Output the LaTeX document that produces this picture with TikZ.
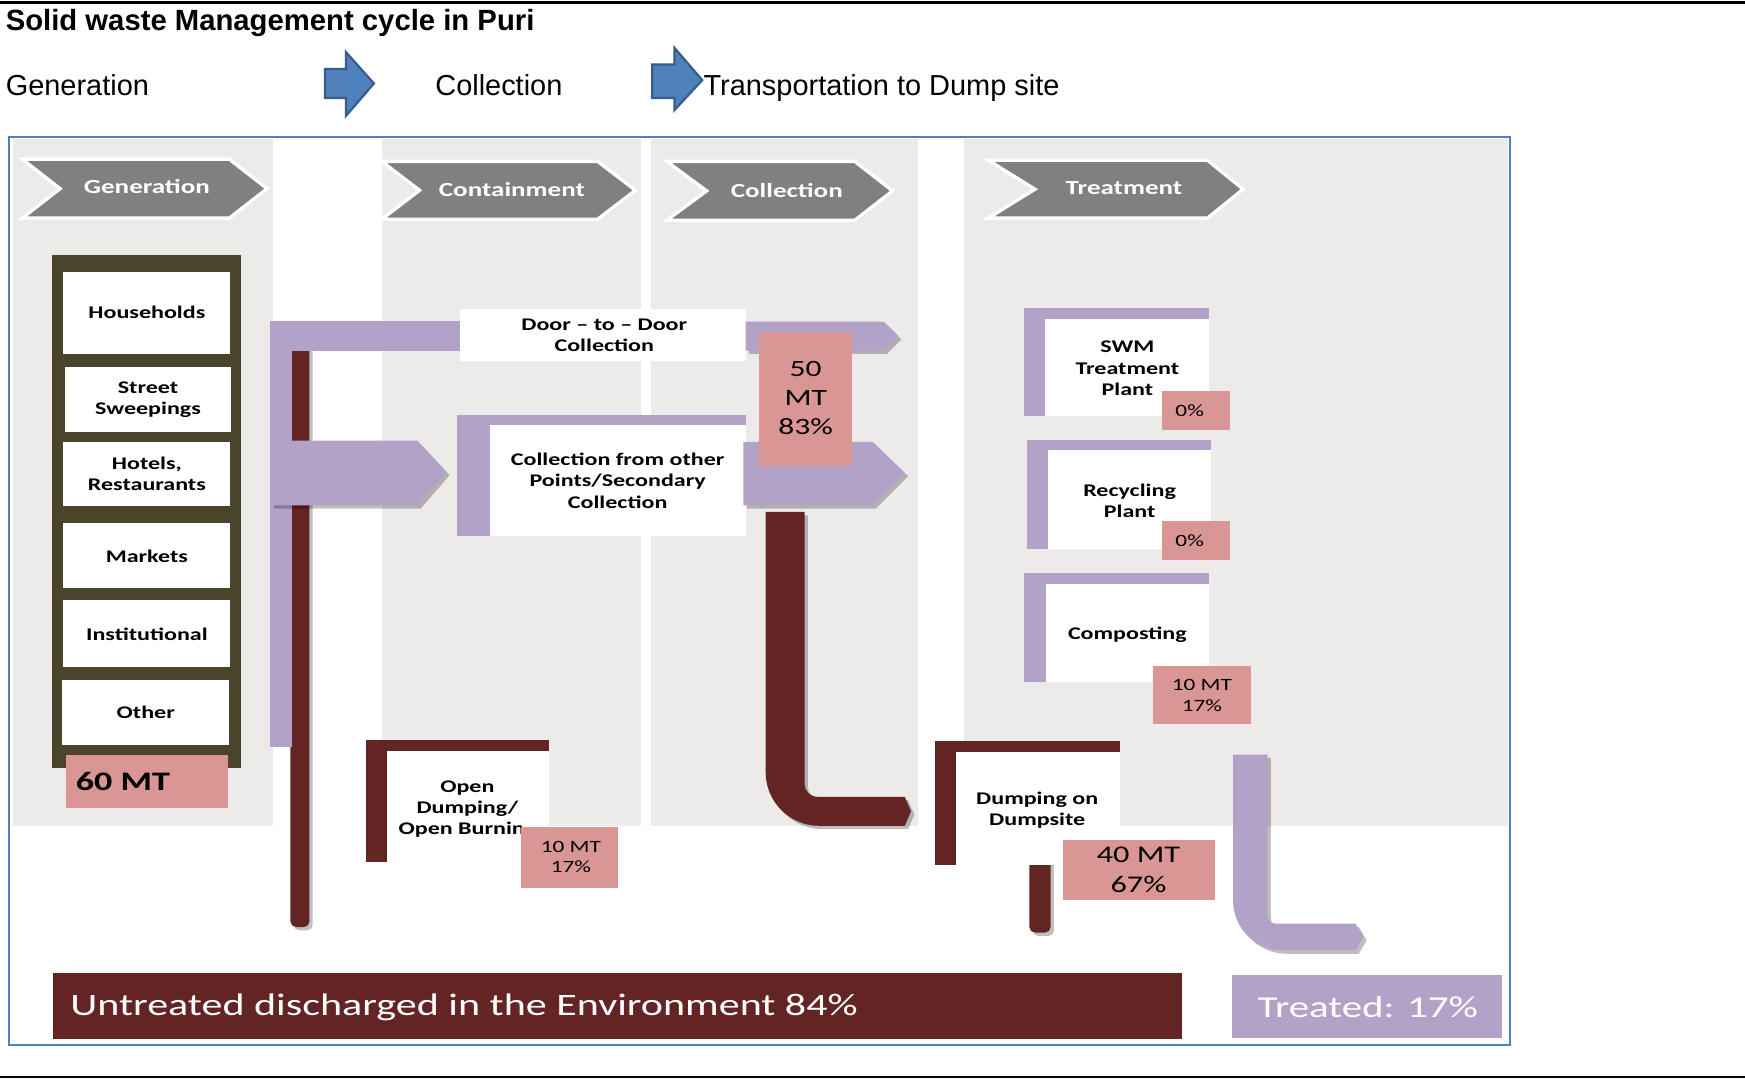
\documentclass[tikz,border=0pt]{standalone}
\usepackage{fontspec}
\newfontfamily\afont{Liberation Sans}
\newfontfamily\cfont[FakeStretch=1.35]{Carlito}
\usetikzlibrary{shadows}
\definecolor{cRed}{HTML}{632523}
\definecolor{cPur}{HTML}{B3A2C7}
\definecolor{cPink}{HTML}{D99694}
\definecolor{cOlive}{HTML}{4A452A}
\definecolor{cGray}{HTML}{808080}
\definecolor{cBg}{HTML}{ECEBE9}
\definecolor{cBlue}{HTML}{4F81BD}
\definecolor{cBlueD}{HTML}{385D8A}
\tikzset{
  lbl/.style={font=\cfont\bfseries\fontsize{16}{19}\selectfont, align=center, inner sep=0pt},
  val/.style={font=\cfont\fontsize{15.5}{18.5}\selectfont, align=center, inner sep=0pt},
  bigval/.style={font=\cfont\fontsize{21.5}{27}\selectfont, align=center, inner sep=0pt},
  chev/.style={fill=cGray, draw=white, line width=3pt, line join=miter},
  chevtxt/.style={font=\cfont\bfseries\fontsize{18}{22}\selectfont, text=white, inner sep=0pt},
  toptxt/.style={font=\afont\fontsize{26}{30}\selectfont, inner sep=0pt, anchor=base west},
  barshadow/.style={drop shadow={shadow xshift=3pt, shadow yshift=-3pt, opacity=0.25, fill=black}},
  bluearrow/.style={fill=cBlue, draw=cBlueD, line width=2pt, line join=miter},
  wbox/.style={fill=white},
}
\begin{document}
\begin{tikzpicture}[x=1pt,y=-1pt]
\useasboundingbox (0,0) rectangle (1568,969);
\fill[white] (0,0) rectangle (1568,969);
% rules
\draw[line width=2.5pt] (0,2) -- (1568,2);
\draw[line width=2pt] (0,967.5) -- (1568,967.5);
% title and process line
\node[toptxt, font=\afont\bfseries\fontsize{26.3}{30}\selectfont] (title) at (5,27) {Solid waste Management cycle in Puri};
\node[toptxt] (pgen) at (5,86) {Generation};
\node[toptxt] (pcol) at (391,86) {Collection};
\node[toptxt] (ptra) at (632,86) {Transportation to Dump site};
\draw[bluearrow] (292,62) -- (311,62) -- (311,47) -- (336,75) -- (311,104) -- (311,88) -- (292,88) -- cycle;
\draw[bluearrow] (586,58) -- (606,58) -- (606,43) -- (631,72) -- (606,99) -- (606,88) -- (586,88) -- cycle;
% column backgrounds
\fill[cBg] (12,125) rectangle (245,742);
\fill[cBg] (343,125) rectangle (576,742);
\fill[cBg] (585,125) rectangle (825,742);
\fill[cBg] (866,125) rectangle (1355,742);
% frame
\draw[cBlue, line width=1.5pt] (8,123) rectangle (1357,939);
% chevrons
\draw[chev] (20,143) -- (206,143) -- (240,169.5) -- (206,196) -- (20,196) -- (54,169.5) -- cycle;
\node[chevtxt] (hgen) at (132,168) {Generation};
\draw[chev] (343,145) -- (537,145) -- (571,171) -- (537,197) -- (343,197) -- (377,171) -- cycle;
\node[chevtxt] (hcon) at (460,170) {Containment};
\draw[chev] (599,145) -- (768,145) -- (802,171.5) -- (768,198) -- (599,198) -- (635,171.5) -- cycle;
\node[chevtxt] (hcol) at (707,171) {Collection};
\draw[chev] (888,144) -- (1085,144) -- (1117,170) -- (1085,196) -- (888,196) -- (930,170) -- cycle;
\node[chevtxt] (htre) at (1010,169) {Treatment};
% generation stack
\fill[cOlive] (47,229) rectangle (217,690);
\fill[wbox] (57,244) rectangle (207,318);
\node[lbl] (hh) at (132,281) {Households};
\fill[wbox] (58,330) rectangle (208,388);
\node[lbl] (ss) at (133,359) {Street\\Sweepings};
\fill[wbox] (57,397) rectangle (207,455);
\node[lbl] (hr) at (132,426) {Hotels,\\Restaurants};
\fill[wbox] (57,470) rectangle (207,528);
\node[lbl] (mk) at (132,500) {Markets};
\fill[wbox] (57,539) rectangle (207,599);
\node[lbl] (in) at (132,570) {Institutional};
\fill[wbox] (56,611) rectangle (206,669);
\node[lbl] (ot) at (131,640) {Other};
\fill[cPink] (59,678) rectangle (205,726);
\node[font=\cfont\bfseries\fontsize{24}{28}\selectfont, anchor=west, inner sep=0pt] (sixty) at (68,702) {60 MT};
% untreated vertical (left)
\fill[cRed, rounded corners=5pt, barshadow] (261,300) rectangle (278,833);
% purple bracket left
\fill[cPur] (243,288) rectangle (262,671);
\fill[cPur] (243,288) rectangle (415,315);
\fill[cPur, barshadow] (243,396) -- (375,396) -- (401,424) -- (375,454) -- (243,454) -- cycle;
% door to door
\fill[wbox] (413,278) rectangle (670,324);
\node[lbl] (d2d) at (543,301) {Door – to – Door\\Collection};
\fill[cPur, barshadow] (670,289) -- (794,289) -- (807,302) -- (794,315) -- (670,315) -- cycle;
% collection from other points
\fill[cPur] (411,373) rectangle (670,482);
\fill[wbox] (440,382) rectangle (670,482);
\node[lbl] (cop) at (555,432) {Collection from other\\Points/Secondary\\Collection};
\fill[cPur, barshadow] (668,397) -- (784,397) -- (813,425) -- (784,454) -- (668,454) -- cycle;
\fill[cPink] (682,298) rectangle (766,419);
\node[font=\cfont\fontsize{21}{26}\selectfont, align=center, inner sep=0pt] (fifty) at (724,358) {50\\MT\\83\%};
% big red L
\fill[cRed, barshadow] (688,460) -- (723,460) -- (723,704) .. controls (723,711) and (728,716) .. (735,716) -- (813,716) -- (818.6,729) -- (813,742) -- (736,742) .. controls (709.5,742) and (688,720.5) .. (688,694) -- cycle;
% open dumping
\fill[cRed] (329,665) rectangle (493,775);
\fill[wbox] (348,675) rectangle (493,775);
\begin{scope}
\clip (348,675) rectangle (469,775);
\node[lbl] (odb) at (420,727) {Open\\Dumping/\\Open Burning};
\end{scope}
\fill[cPink] (468,743) rectangle (555,798);
\node[val] (odv) at (513,770) {10 MT\\17\%};
% treatment boxes
\fill[cPur] (920,277) rectangle (1086,374);
\fill[wbox] (939,287) rectangle (1086,374);
\node[lbl] (swm) at (1013,331) {SWM\\Treatment\\Plant};
\fill[cPink] (1044,351) rectangle (1105,386);
\node[val] (swmv) at (1069,369) {0\%};
\fill[cPur] (923,395) rectangle (1088,493);
\fill[wbox] (942,404) rectangle (1088,493);
\node[lbl] (rec) at (1015,450) {Recycling\\Plant};
\fill[cPink] (1044,468) rectangle (1105,503);
\node[val] (recv) at (1069,486) {0\%};
\fill[cPur] (920,515) rectangle (1086,613);
\fill[wbox] (940,525) rectangle (1086,613);
\node[lbl] (cmp) at (1013,570) {Composting};
\fill[cPink] (1036,598) rectangle (1124,651);
\node[val] (cmpv) at (1080,625) {10 MT\\17\%};
% dumping on dumpsite
\fill[cRed, rounded corners=5pt, barshadow] (925,770) rectangle (944,838);
\fill[cRed] (840,666) rectangle (1006,777);
\fill[wbox] (859,676) rectangle (1006,777);
\node[lbl] (dmp) at (932,728) {Dumping on\\Dumpsite};
\fill[cPink] (955,755) rectangle (1092,809);
\node[bigval] (dmpv) at (1023,782) {40 MT\\67\%};
% purple J
\fill[cPur, barshadow] (1108,678) -- (1139,678) -- (1139,822) .. controls (1139,827) and (1142,830) .. (1147,830) -- (1218,830) -- (1225,842) -- (1218,854) -- (1153,854) .. controls (1128,854) and (1108,834) .. (1108,809) -- cycle;
% bottom bars
\fill[cRed] (48,874) rectangle (1062,934);
\node[font=\cfont\fontsize{28}{32}\selectfont, text=white, anchor=west, inner sep=0pt] (untr) at (63,905) {Untreated discharged in the Environment 84\%};
\fill[cPur] (1107,876) rectangle (1350,933);
\node[font=\cfont\fontsize{27.3}{32}\selectfont, text=white, inner sep=0pt] (trt) at (1229,905) {Treated: 17\%};
\end{tikzpicture}
\end{document}
